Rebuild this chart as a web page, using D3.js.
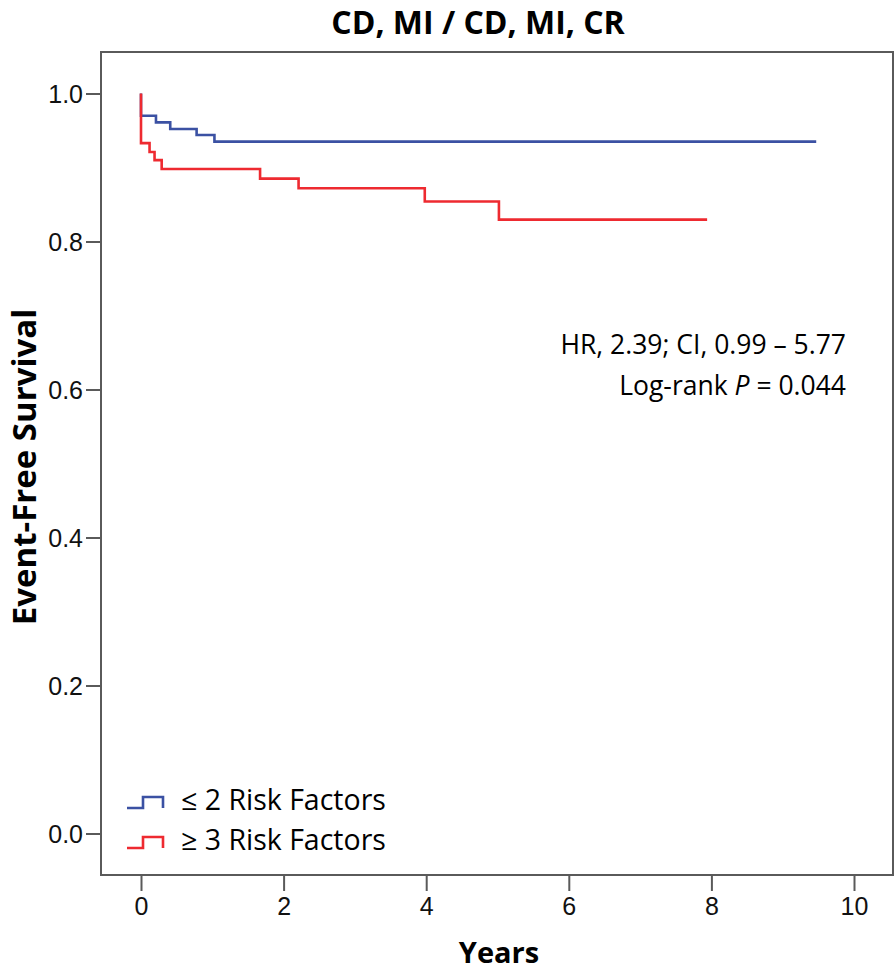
<!DOCTYPE html>
<html>
<head>
<meta charset="utf-8">
<script src="https://cdn.jsdelivr.net/npm/d3@7"></script>
<style>
  body { margin: 0; background: #fff; }
  svg { display: block; }
  .tick text { font-family: "Liberation Sans", Arial, sans-serif; font-size: 25px; fill: #111; }
  .lab { font-family: "Open Sans", sans-serif; fill: #000; }
</style>
</head>
<body>
<svg id="chart"></svg>
<script>
'use strict';

// curve data: event times (years) and survival after each step
const lowTimes = [0, 0.21, 0.41, 0.78, 1.03, 9.47];
const lowSurv = [0.97, 0.961, 0.952, 0.944, 0.935, 0.935];
const highTimes = [0, 0.12, 0.19, 0.29, 1.67, 2.21, 3.98, 5.02, 7.94];
const highSurv = [0.933, 0.921, 0.910, 0.898, 0.885, 0.872, 0.854, 0.8295, 0.8295];

const xTicks = [0, 2, 4, 6, 8, 10];
const yTicks = [0.0, 0.2, 0.4, 0.6, 0.8, 1.0];
const seriesNames = ['\u2264 2 Risk Factors', '\u2265 3 Risk Factors'];
const seriesColors = ['#3b51a3', '#ee2a30'];

const W = 896, H = 973;
const frame = { left: 101, right: 893, top: 52, bottom: 875 };

const svg = d3.select('#chart').attr('width', W).attr('height', H);
svg.append('rect').attr('width', W).attr('height', H).attr('fill', '#fff');

const x = d3.scaleLinear().domain([0, 10]).range([141, 854]);
const y = d3.scaleLinear().domain([0, 1]).range([833.5, 93.5]);

// frame
svg.append('rect')
  .attr('x', frame.left).attr('y', frame.top)
  .attr('width', frame.right - frame.left).attr('height', frame.bottom - frame.top)
  .attr('fill', 'none').attr('stroke', '#5a5a5a').attr('stroke-width', 2);

// axes
const xAxis = svg.append('g')
  .attr('transform', `translate(0,${frame.bottom})`)
  .call(d3.axisBottom(x).tickValues(xTicks).tickFormat(d3.format('d')).tickSize(16).tickPadding(6));
const yAxis = svg.append('g')
  .attr('transform', `translate(${frame.left},0)`)
  .call(d3.axisLeft(y).tickValues(yTicks).tickFormat(d3.format('.1f')).tickSize(15).tickPadding(3));
[xAxis, yAxis].forEach((g) => {
  g.select('.domain').remove();
  g.selectAll('.tick line').attr('stroke', '#5a5a5a').attr('stroke-width', 2);
});
yAxis.selectAll('.tick text').attr('dy', '0.36em');

// survival steps
const line = d3.line().x((d) => x(d[0])).y((d) => y(d[1])).curve(d3.curveStepAfter);
const series = [
  { times: lowTimes, surv: lowSurv },
  { times: highTimes, surv: highSurv },
];
series.forEach((s, i) => {
  const pts = [[0, 1]].concat(s.times.map((t, j) => [t, s.surv[j]]));
  svg.append('path')
    .attr('d', line(pts))
    .attr('fill', 'none')
    .attr('stroke', seriesColors[i])
    .attr('stroke-width', 2.6);
});

// legend
const legend = svg.append('g').attr('transform', 'translate(127,808)');
seriesNames.forEach((name, i) => {
  const g = legend.append('g').attr('transform', `translate(0,${i * 40})`);
  g.append('path')
    .attr('d', 'M0,0 H16 V-11 H36 V0')
    .attr('fill', 'none').attr('stroke', seriesColors[i]).attr('stroke-width', 2.6);
  g.append('text').attr('class', 'lab')
    .attr('x', 54).attr('y', 2)
    .attr('font-size', 28.5)
    .text(name);
});

// statistics note
const note = svg.append('g').attr('class', 'lab').attr('font-size', 26.5).attr('text-anchor', 'end');
note.append('text').attr('x', 846).attr('y', 354).text('HR, 2.39; CI, 0.99 \u2013 5.77');
const p = note.append('text').attr('x', 846).attr('y', 395);
p.append('tspan').text('Log-rank ');
p.append('tspan').attr('font-style', 'italic').text('P');
p.append('tspan').text(' = 0.044');

// titles
svg.append('text').attr('class', 'lab')
  .attr('x', 478).attr('y', 34)
  .attr('text-anchor', 'middle').attr('font-size', 32).attr('font-weight', 700)
  .text('CD, MI / CD, MI, CR');
svg.append('text').attr('class', 'lab')
  .attr('x', 499).attr('y', 963)
  .attr('text-anchor', 'middle').attr('font-size', 29).attr('font-weight', 700)
  .text('Years');
svg.append('text').attr('class', 'lab')
  .attr('transform', 'translate(36,467) rotate(-90)')
  .attr('text-anchor', 'middle').attr('font-size', 33).attr('font-weight', 700)
  .text('Event-Free Survival');
</script>
</body>
</html>
